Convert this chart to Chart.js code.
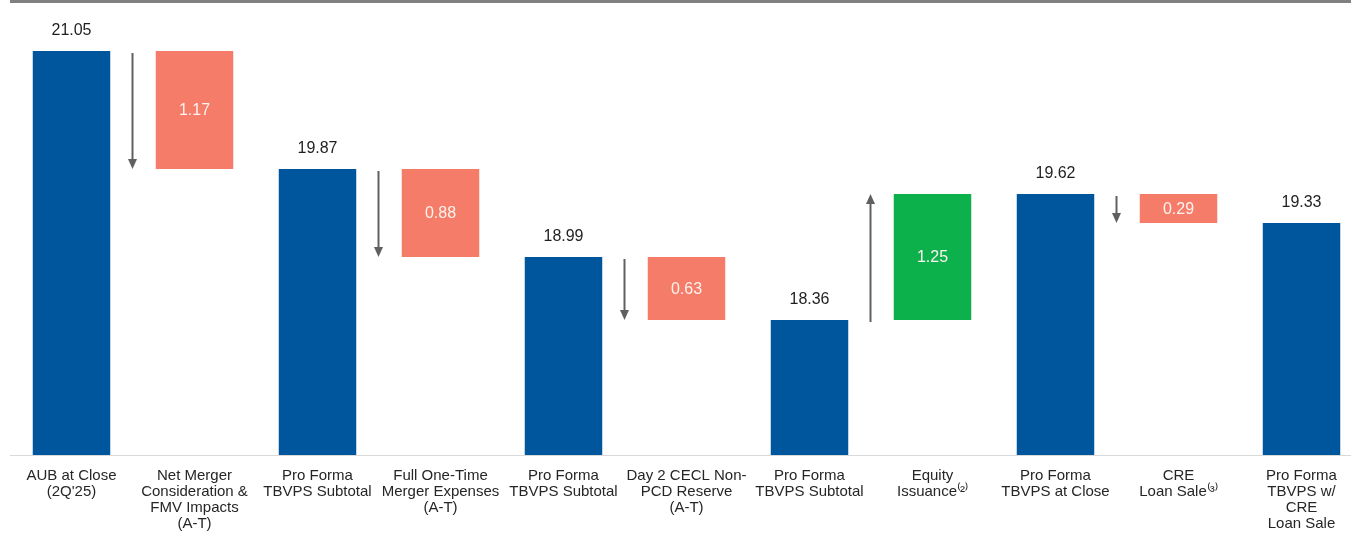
<!DOCTYPE html>
<html>
<head>
<meta charset="utf-8">
<script src="https://cdn.jsdelivr.net/npm/chart.js@4.4.1/dist/chart.umd.min.js"></script>
<style>
  html, body { margin: 0; padding: 0; background: #fff; overflow: hidden; }
  .wrap { position: relative; width: 1363px; height: 533px; }
  .topline { position: absolute; left: 10px; right: 0; top: 0; height: 3px; background: #808080; }
</style>
</head>
<body>
<div class="wrap">
  <div class="topline"></div>
  <canvas id="chartBridge"></canvas>
</div>
<script>
  /* ==========================
     DATA
  ========================== */
  const categories = [
    ["AUB at Close", "(2Q'25)"],
    ["Net Merger", "Consideration &", "FMV Impacts", "(A-T)"],
    ["Pro Forma", "TBVPS Subtotal"],
    ["Full One-Time", "Merger Expenses", "(A-T)"],
    ["Pro Forma", "TBVPS Subtotal"],
    ["Day 2 CECL Non-", "PCD Reserve", "(A-T)"],
    ["Pro Forma", "TBVPS Subtotal"],
    ["Equity", "Issuance\u207D\u00B2\u207E"],
    ["Pro Forma", "TBVPS at Close"],
    ["CRE", "Loan Sale\u207D\u00B3\u207E"],
    ["Pro Forma", "TBVPS w/", "CRE", "Loan Sale"],
  ];
  const totals = [21.05, null, 19.87, null, 18.99, null, 18.36, null, 19.62, null, 19.33];
  const changes = [null, -1.17, null, -0.88, null, -0.63, null, 1.25, null, -0.29, null];
  const axisMin = 17.01;
  const axisMax = 21.56;

  // floating bars for the changes run between the neighbouring totals
  const changeRanges = changes.map(function (c, i) {
    if (c === null) return null;
    return [Math.min(totals[i - 1], totals[i + 1]), Math.max(totals[i - 1], totals[i + 1])];
  });

  /* ==========================
     LABELS + ARROWS
  ========================== */
  const bridgeDecor = {
    id: "bridgeDecor",
    afterDatasetsDraw(chart) {
      const ctx = chart.ctx;
      const x = chart.scales.x;
      const y = chart.scales.y;
      ctx.save();
      ctx.font = "16px 'Liberation Sans', Arial, sans-serif";
      ctx.textAlign = "center";
      ctx.textBaseline = "middle";

      totals.forEach(function (v, i) {
        if (v === null) return;
        ctx.fillStyle = "#1f1f1f";
        ctx.fillText(v.toFixed(2), x.getPixelForValue(i), y.getPixelForValue(v) - 20);
      });

      changes.forEach(function (c, i) {
        if (c === null) return;
        const r = changeRanges[i];
        const mid = (y.getPixelForValue(r[0]) + y.getPixelForValue(r[1])) / 2;
        ctx.fillStyle = "#fdf3f0";
        ctx.fillText(Math.abs(c).toFixed(2), x.getPixelForValue(i), mid + 1);

        // arrow between previous bar and this one
        const ax = (x.getPixelForValue(i) + x.getPixelForValue(i - 1)) / 2 - 0.5;
        const yFrom = y.getPixelForValue(totals[i - 1]) + 2;
        const yTo = y.getPixelForValue(totals[i + 1]);
        const dir = yTo > yFrom ? 1 : -1;
        ctx.strokeStyle = "#606060";
        ctx.fillStyle = "#606060";
        ctx.lineWidth = 2;
        ctx.beginPath();
        ctx.moveTo(ax, yFrom);
        ctx.lineTo(ax, yTo - dir * 8);
        ctx.stroke();
        ctx.beginPath();
        ctx.moveTo(ax - 4.5, yTo - dir * 10);
        ctx.lineTo(ax + 4.5, yTo - dir * 10);
        ctx.lineTo(ax, yTo);
        ctx.closePath();
        ctx.fill();
      });
      ctx.restore();
    },
  };

  /* ==========================
     CHART
  ========================== */
  new Chart(document.getElementById("chartBridge").getContext("2d"), {
    type: "bar",
    data: {
      labels: categories,
      datasets: [
        {
          data: totals,
          backgroundColor: "#00569d",
          barPercentage: 0.63,
          categoryPercentage: 1,
          grouped: false,
        },
        {
          data: changeRanges,
          backgroundColor: changes.map(function (c) {
            return c !== null && c > 0 ? "#0db14b" : "#f47c68";
          }),
          barPercentage: 0.63,
          categoryPercentage: 1,
          grouped: false,
        },
      ],
    },
    options: {
      responsive: true,
      maintainAspectRatio: false,
      animation: false,
      layout: { padding: { left: 10, right: 0, top: 0, bottom: 0 } },
      scales: {
        x: {
          grid: { display: false },
          border: { display: true, color: "#d9d9d9", width: 1 },
          ticks: {
            autoSkip: false,
            maxRotation: 0,
            padding: 5,
            color: "#262626",
            font: { family: "'Liberation Sans', Arial, sans-serif", size: 15, lineHeight: 1.07 },
          },
          afterFit: function (scale) {
            scale.height = 78;
          },
        },
        y: {
          display: false,
          min: axisMin,
          max: axisMax,
        },
      },
      plugins: {
        legend: { display: false },
        tooltip: { enabled: false },
      },
    },
    plugins: [bridgeDecor],
  });
</script>
</body>
</html>
